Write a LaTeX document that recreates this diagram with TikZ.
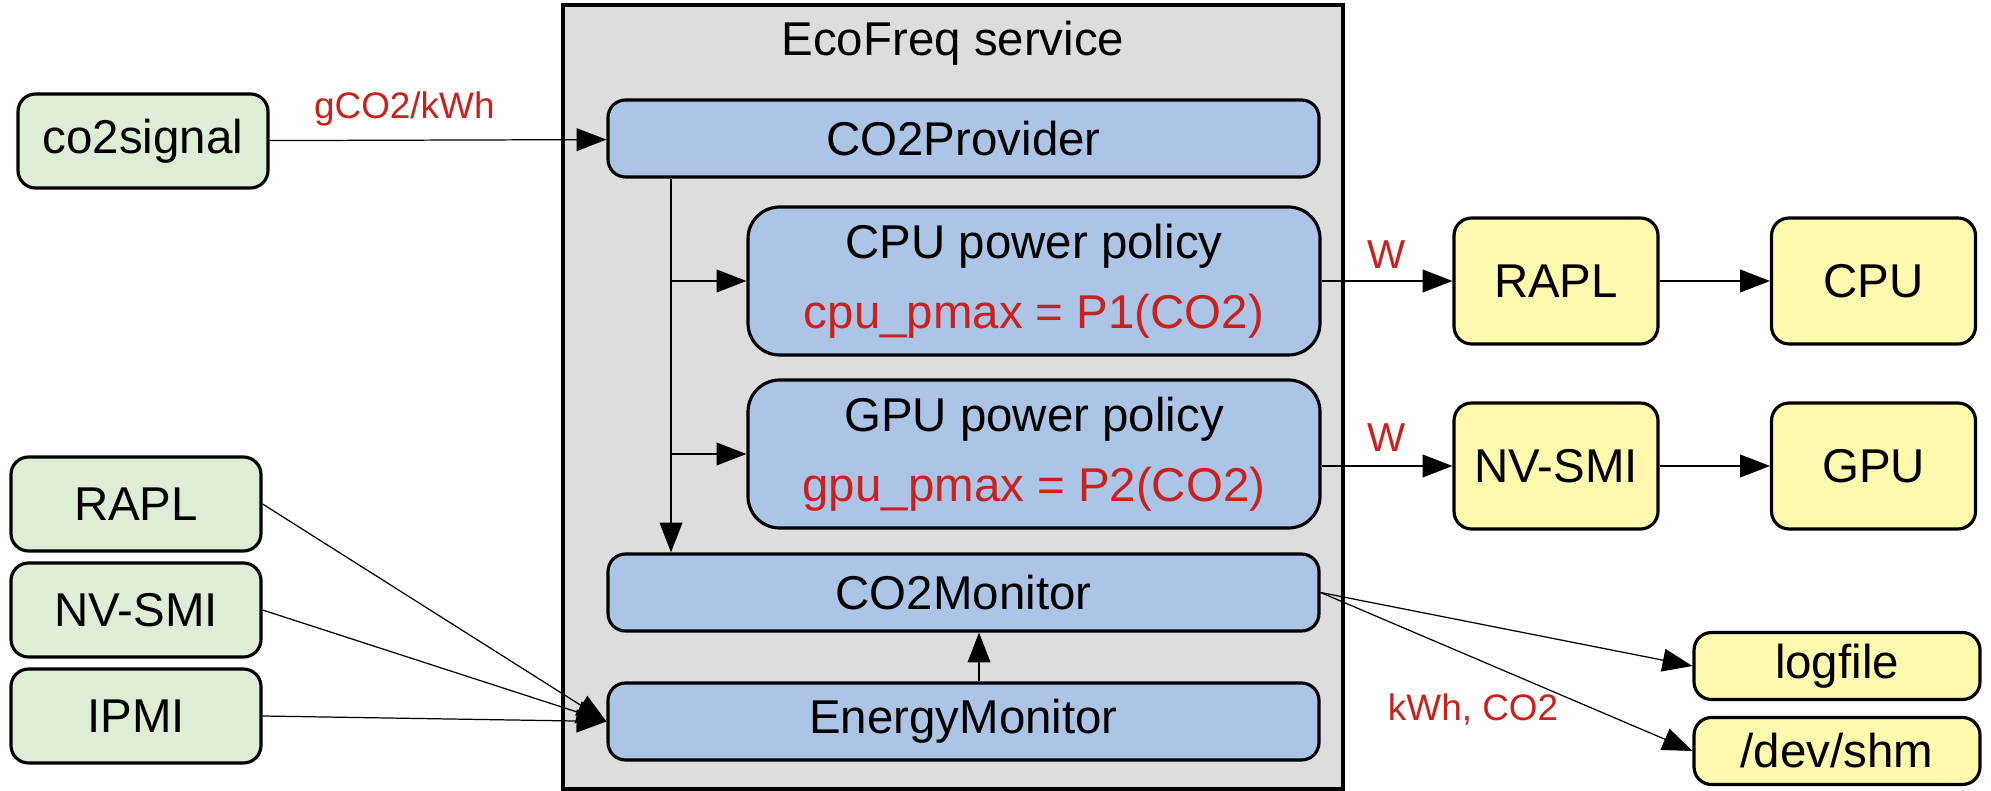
\documentclass[tikz,border=0pt]{standalone}
\usepackage{fontspec}
\setmainfont{Liberation Sans}
\usetikzlibrary{arrows.meta}
\definecolor{srcgreen}{RGB}{222,237,213}
\definecolor{coreblue}{RGB}{172,197,231}
\definecolor{outyellow}{RGB}{255,249,174}
\definecolor{svcgray}{RGB}{221,221,221}
\definecolor{unitred}{RGB}{201,33,30}
\tikzset{
  box/.style={draw,line width=0.9pt,rounded corners=5pt,inner sep=0pt,align=center,
    font=\fontsize{13.5}{20}\selectfont},
  src/.style={box,fill=srcgreen,minimum width=25mm,minimum height=9.4mm},
  core/.style={box,fill=coreblue,minimum width=71.1mm,minimum height=7.7mm},
  policy/.style={box,fill=coreblue,rounded corners=9pt,minimum width=57.2mm,minimum height=14.8mm},
  dev/.style={box,fill=outyellow,minimum width=20.4mm,minimum height=12.6mm},
  sink/.style={box,fill=outyellow,minimum width=28.6mm,minimum height=6.7mm},
  unit/.style={text=unitred,font=\fontsize{10.5}{12}\selectfont},
  flow/.style={-{Triangle[length=8.5pt,width=6.5pt]},line width=0.35pt},
}
\begin{document}
\begin{tikzpicture}[x=0.1mm,y=-0.1mm]
  \useasboundingbox (0,0) rectangle (1991,791);
  \node[draw,line width=0.9pt,fill=svcgray,minimum width=78mm,minimum height=78.4mm,inner sep=0pt] (svc) at (953,397) {};
  \node[font=\fontsize{13.5}{16}\selectfont] (title) at (953,43) {EcoFreq service};

  \node[src] (CS) at (143,141) {co2signal};
  \node[src] (R) at (136,504) {RAPL};
  \node[src] (N) at (136,610) {NV-SMI};
  \node[src] (I) at (136,716) {IPMI};

  \node[core] (prov) at (963.5,138.5) {CO2Provider};
  \node[policy] (cpol) at (1034,281) {CPU power policy\\\textcolor{unitred}{cpu\_pmax = P1(CO2)}};
  \node[policy] (gpol) at (1034,454) {GPU power policy\\\textcolor{unitred}{gpu\_pmax = P2(CO2)}};
  \node[core] (cmon) at (963.5,592.5) {CO2Monitor};
  \node[core] (emon) at (963.5,721.5) {EnergyMonitor};

  \node[dev] (orapl) at (1556,281) {RAPL};
  \node[dev] (cpu) at (1873.5,281) {CPU};
  \node[dev] (onv) at (1556,466) {NV-SMI};
  \node[dev] (gpu) at (1873.5,466) {GPU};
  \node[sink] (log) at (1837,666) {logfile};
  \node[sink] (shm) at (1837,751) {/dev/shm};

  \coordinate (tk) at (671,0);
  \draw[flow] (CS) -- node[unit,pos=0.4,yshift=3.1mm]{gCO2/kWh} (prov);
  \draw[flow] (tk |- prov.south) -- (tk |- cmon.north);
  \draw[flow] (tk |- cpol.west) -- (cpol.west);
  \draw[flow] (tk |- gpol.west) -- (gpol.west);
  \draw[flow] (cpol) -- node[unit,yshift=2.6mm,font=\fontsize{11.5}{14}\selectfont]{W} (orapl);
  \draw[flow] (gpol.east |- onv) -- node[unit,yshift=2.8mm,font=\fontsize{11.5}{14}\selectfont]{W} (onv);
  \draw[flow] (orapl) -- (cpu);
  \draw[flow] (onv) -- (gpu);
  \draw[flow] (R.east) -- (emon.west);
  \draw[flow] (N.east) -- (emon.west);
  \draw[flow] (I.east) -- (emon.west);
  \draw[flow] ([xshift=1.55mm]emon.north) -- ([xshift=1.55mm]cmon.south);
  \draw[flow] (cmon.east) -- (log.west);
  \draw[flow] (cmon.east) -- node[unit,pos=0.41,yshift=-5.2mm]{kWh, CO2} (shm.west);
\end{tikzpicture}
\end{document}
